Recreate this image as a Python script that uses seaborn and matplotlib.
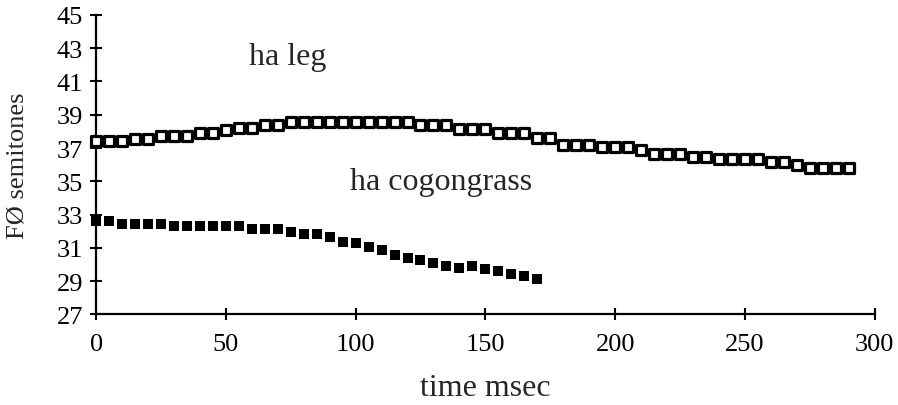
import numpy as np
import pandas as pd
import matplotlib
matplotlib.use("Agg")
import matplotlib.pyplot as plt
import seaborn as sns

# ---- data ----
leg_time = list(range(0, 295, 5))
leg_f0 = [37.42, 37.42, 37.42, 37.56, 37.56, 37.70, 37.70, 37.70, 37.92, 37.92,
          38.06, 38.22, 38.22, 38.40, 38.40,
          38.56, 38.56, 38.56, 38.56, 38.56, 38.56, 38.56, 38.56, 38.56, 38.56,
          38.36, 38.36, 38.36, 38.16, 38.16, 38.16, 37.92, 37.92, 37.92,
          37.60, 37.60, 37.16, 37.16, 37.16, 37.06, 37.06, 37.06, 36.86,
          36.66, 36.66, 36.66, 36.46, 36.46, 36.32, 36.32, 36.32, 36.32,
          36.16, 36.16, 35.95, 35.80, 35.80, 35.80, 35.80]

cog_time = list(range(0, 175, 5))
cog_f0 = [32.62, 32.62, 32.43, 32.43, 32.43, 32.43, 32.29, 32.29, 32.29, 32.29,
          32.29, 32.29, 32.13, 32.13, 32.13, 31.95, 31.83, 31.83, 31.65,
          31.35, 31.31, 31.05, 30.89, 30.55, 30.41, 30.25, 30.09, 29.93,
          29.79, 29.93, 29.75, 29.61, 29.45, 29.29, 29.13]

x_ticks = [0, 50, 100, 150, 200, 250, 300]
y_ticks = [27, 29, 31, 33, 35, 37, 39, 41, 43, 45]
labels = {"leg": "ha leg", "cog": "ha cogongrass"}

df_leg = pd.DataFrame({"time": leg_time, "f0": leg_f0})
df_cog = pd.DataFrame({"time": cog_time, "f0": cog_f0})

sns.set_style("white")
plt.rcParams["font.family"] = ["Liberation Serif", "DejaVu Serif"]

fig = plt.figure(figsize=(8.98, 4.06), dpi=100)
ax = fig.add_axes([0.107, 0.223, 0.867, 0.738])

sns.scatterplot(data=df_leg, x="time", y="f0", marker="s", s=55,
                facecolor="white", edgecolor="black", linewidth=2.3,
                ax=ax, zorder=5, clip_on=False)
sns.scatterplot(data=df_cog, x="time", y="f0", marker="s", s=42,
                color="black", linewidth=0, ax=ax, zorder=5, clip_on=False)

ax.set_xlim(0, 300)
ax.set_ylim(27, 45)
ax.set_xticks(x_ticks)
ax.set_yticks(y_ticks)
ax.tick_params(axis="both", which="major", direction="inout", length=9,
               width=1.5, colors="black", labelsize=19,
               bottom=True, left=True, top=False, right=False)
ax.tick_params(axis="x", pad=9)
ax.tick_params(axis="y", pad=5)

for s in ["top", "right"]:
    ax.spines[s].set_visible(False)
for s in ["left", "bottom"]:
    ax.spines[s].set_linewidth(1.6)
    ax.spines[s].set_color("black")

ax.set_xlabel("time msec", fontsize=23, labelpad=13)
ax.set_ylabel("FØ semitones", fontsize=19, labelpad=20)

ax.text(74, 42.5, labels["leg"], fontsize=23, ha="center", va="center")
ax.text(133, 35.0, labels["cog"], fontsize=23, ha="center", va="center")

fig.savefig("out.png", dpi=100)
